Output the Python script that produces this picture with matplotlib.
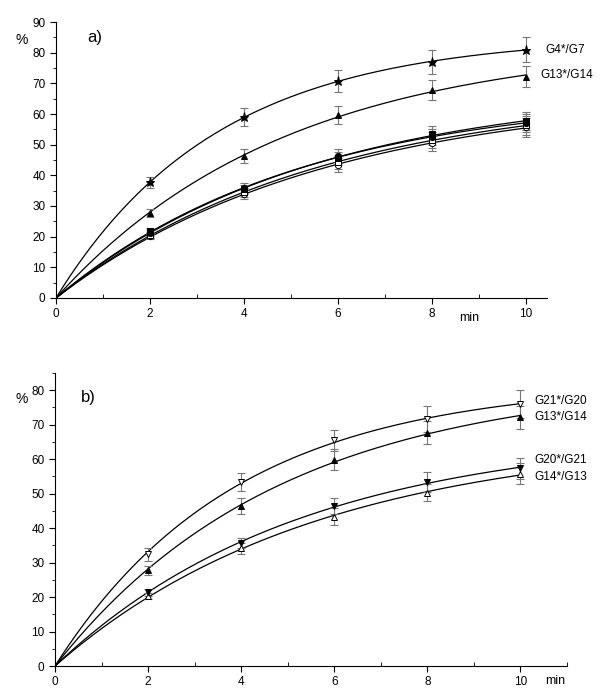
import numpy as np
import matplotlib
matplotlib.use('Agg')
import matplotlib.pyplot as plt
from matplotlib.ticker import MultipleLocator

plt.rcParams['font.family'] = ['Liberation Sans', 'DejaVu Sans']

# Zeitpunkte (min)
t = [2, 4, 6, 8, 10]

# Panel a)
a_g4_g7 = [37.7, 59.0, 70.7, 77.0, 81.0]
a_g4_g7_err = [1.9, 2.9, 3.5, 3.8, 4.0]
a_g13_g14 = [27.6, 46.3, 59.7, 67.8, 72.1]
a_g13_g14_err = [1.3, 2.3, 3.0, 3.3, 3.4]
a_sq_fill = [21.8, 35.5, 45.5, 53.4, 57.8]
a_ci_fill = [21.2, 35.9, 46.4, 52.5, 57.0]
a_sq_open = [20.6, 34.5, 44.2, 51.5, 56.3]
a_ci_open = [20.2, 33.8, 43.3, 50.6, 55.6]
a_cluster_err = [1.0, 1.5, 2.2, 2.6, 3.0]

# Panel b)
b_g21_g20 = [32.4, 53.4, 65.5, 71.6, 75.9]
b_g21_g20_err = [1.8, 2.7, 3.1, 3.7, 4.1]
b_g13_g14 = [27.8, 46.4, 59.9, 67.7, 72.1]
b_g13_g14_err = [1.3, 2.3, 3.0, 3.3, 3.4]
b_g20_g21 = [21.4, 35.7, 46.4, 53.4, 57.3]
b_g20_g21_err = [1.0, 1.5, 2.3, 2.8, 3.0]
b_g14_g13 = [20.3, 34.1, 43.3, 50.3, 55.8]
b_g14_g13_err = [1.0, 1.5, 2.5, 2.5, 3.0]


def fit_curve(x, y):
    # y = A*(1-exp(-k*x)), k per Gittersuche, A per kleinste Quadrate
    x = np.asarray(x, float)
    y = np.asarray(y, float)
    best = None
    for k in np.linspace(0.01, 1.0, 2000):
        f = 1 - np.exp(-k * x)
        A = (f @ y) / (f @ f)
        r = ((A * f - y) ** 2).sum()
        if best is None or r < best[0]:
            best = (r, A, k)
    xs = np.linspace(0, 10, 200)
    return xs, best[1] * (1 - np.exp(-best[2] * xs))


def series(ax, y, err, marker, filled, ms=5):
    xs, ys = fit_curve(t, y)
    ax.plot(xs, ys, color='black', lw=0.9, zorder=2)
    ax.errorbar(t, y, yerr=err, fmt='none', ecolor='#777777', elinewidth=0.8,
                capsize=3, capthick=0.8, zorder=3)
    ax.plot(t, y, linestyle='none', marker=marker, ms=ms,
            markerfacecolor='black' if filled else 'white',
            markeredgecolor='black', markeredgewidth=0.7, zorder=4)


def style(ax, xmax, ymax, ystep):
    ax.set_xlim(0, xmax)
    ax.set_ylim(0, ymax)
    ax.spines['top'].set_visible(False)
    ax.spines['right'].set_visible(False)
    ax.xaxis.set_major_locator(MultipleLocator(2))
    ax.xaxis.set_minor_locator(MultipleLocator(1))
    ax.yaxis.set_major_locator(MultipleLocator(ystep))
    ax.yaxis.set_minor_locator(MultipleLocator(ystep / 2))
    ax.tick_params(axis='x', which='major', direction='out', length=4, labelsize=8.5)
    ax.tick_params(axis='x', which='minor', direction='in', length=3)
    ax.tick_params(axis='y', which='major', direction='out', length=4, labelsize=8.5)
    ax.tick_params(axis='y', which='minor', direction='out', length=2.5)


fig = plt.figure(figsize=(6, 6.99), dpi=100)

# a)
ax1 = fig.add_axes([0.0933, 0.5737, 0.8187, 0.3948])
series(ax1, a_ci_open, a_cluster_err, 'o', False, 4.5)
series(ax1, a_sq_open, a_cluster_err, 's', False, 4.5)
series(ax1, a_ci_fill, a_cluster_err, 'o', True, 4.5)
series(ax1, a_sq_fill, a_cluster_err, 's', True, 4.5)
series(ax1, a_g13_g14, a_g13_g14_err, '^', True)
series(ax1, a_g4_g7, a_g4_g7_err, '*', True, 6.5)
style(ax1, 10.45, 90, 10)
ax1.text(10.42, 81, 'G4*/G7', fontsize=8.5, va='center', clip_on=False)
ax1.text(10.31, 72.6, 'G13*/G14', fontsize=8.5, va='center', clip_on=False)
ax1.text(8.8, -6.5, 'min', fontsize=9, ha='center', va='center', clip_on=False)
fig.text(0.145, 0.947, 'a)', fontsize=12, va='center')
fig.text(0.025, 0.943, '%', fontsize=10, va='center')

# b)
ax2 = fig.add_axes([0.0917, 0.0472, 0.8533, 0.4192])
series(ax2, b_g14_g13, b_g14_g13_err, '^', False)
series(ax2, b_g20_g21, b_g20_g21_err, 'v', True)
series(ax2, b_g13_g14, b_g13_g14_err, '^', True)
series(ax2, b_g21_g20, b_g21_g20_err, 'v', False)
style(ax2, 11, 85, 10)
ax2.text(10.3, 76.9, 'G21*/G20', fontsize=8.5, va='center')
ax2.text(10.3, 72.2, 'G13*/G14', fontsize=8.5, va='center')
ax2.text(10.3, 59.7, 'G20*/G21', fontsize=8.5, va='center')
ax2.text(10.3, 54.9, 'G14*/G13', fontsize=8.5, va='center')
ax2.text(10.75, -4.4, 'min', fontsize=9, ha='center', va='center', clip_on=False)
fig.text(0.135, 0.432, 'b)', fontsize=12, va='center')
fig.text(0.025, 0.429, '%', fontsize=10, va='center')

fig.savefig('out.png', dpi=100)
